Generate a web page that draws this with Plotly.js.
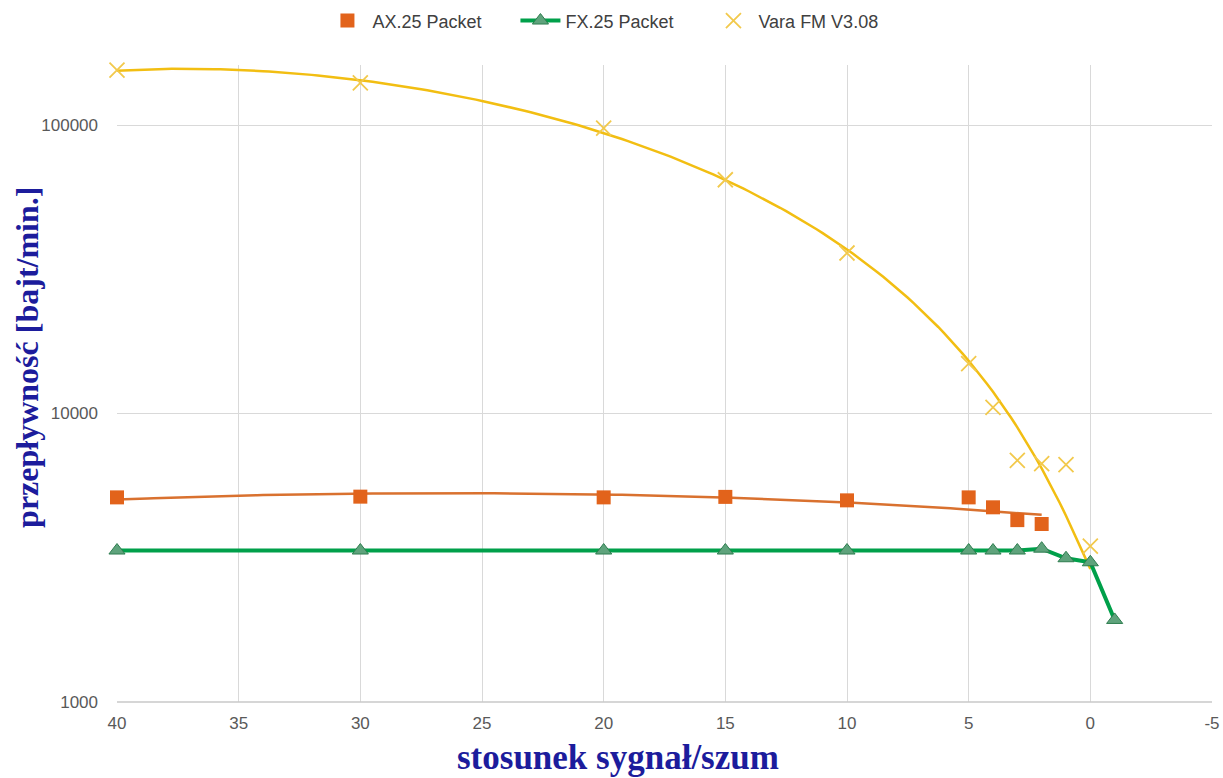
<!DOCTYPE html>
<html>
<head>
<meta charset="utf-8">
<script src="https://cdn.plot.ly/plotly-3.0.1.min.js"></script>
<style>html,body{margin:0;padding:0;background:#fff;}#chart{width:1223px;height:778px;}</style>
</head>
<body>
<div id="chart"></div>
<script>
// SNR values (dB)
var axSnr = [40, 30, 20, 15, 10, 5, 4, 3, 2];
var axThroughput = [5120, 5150, 5120, 5140, 5000, 5120, 4730, 4270, 4140];

var fxSnr = [40, 30, 20, 15, 10, 5, 4, 3, 2, 1, 0, -1];
var fxThroughput = [3350, 3350, 3350, 3350, 3350, 3350, 3350, 3350, 3400, 3150, 3050, 1925];

var varaSnr = [40, 30, 20, 15, 10, 5, 4, 3, 2, 1, 0];
var varaThroughput = [155000, 140000, 97600, 64600, 36000, 14900, 10500, 6880, 6700, 6650, 3470];

var xTickVals = [40, 35, 30, 25, 20, 15, 10, 5, 0, -5];
var yTickVals = [1000, 10000, 100000];

var xTitle = 'stosunek sygnał/szum';
var yTitle = 'przepływność [bajt/min.]';

// least-squares polynomial trendline (like a spreadsheet trendline)
function polyFit(xs, ys, order) {
  var n = order + 1, A = [], b = [];
  for (var i = 0; i < n; i++) {
    A.push(new Array(n).fill(0)); b.push(0);
  }
  for (var k = 0; k < xs.length; k++) {
    for (var i = 0; i < n; i++) {
      b[i] += ys[k] * Math.pow(xs[k], i);
      for (var j = 0; j < n; j++) A[i][j] += Math.pow(xs[k], i + j);
    }
  }
  for (var i = 0; i < n; i++) {
    var p = i;
    for (var r = i + 1; r < n; r++) if (Math.abs(A[r][i]) > Math.abs(A[p][i])) p = r;
    var t = A[i]; A[i] = A[p]; A[p] = t; var tb = b[i]; b[i] = b[p]; b[p] = tb;
    for (var r = i + 1; r < n; r++) {
      var f = A[r][i] / A[i][i];
      for (var c = i; c < n; c++) A[r][c] -= f * A[i][c];
      b[r] -= f * b[i];
    }
  }
  var coef = new Array(n).fill(0);
  for (var i = n - 1; i >= 0; i--) {
    var s = b[i];
    for (var c = i + 1; c < n; c++) s -= A[i][c] * coef[c];
    coef[i] = s / A[i][i];
  }
  return coef;
}
function trend(xs, ys, order) {
  var coef = polyFit(xs, ys, order);
  var lo = Math.min.apply(null, xs), hi = Math.max.apply(null, xs);
  var tx = [], ty = [];
  for (var x = lo; x <= hi + 1e-9; x += 0.25) {
    var v = 0;
    for (var i = 0; i < coef.length; i++) v += coef[i] * Math.pow(x, i);
    tx.push(x); ty.push(v);
  }
  return {x: tx, y: ty};
}
var axTrend = trend(axSnr, axThroughput, 2);
var varaTrend = trend(varaSnr, varaThroughput, 3);

var orange = '#E2631B', green = '#00A04A';
var titleFont = {family: 'Liberation Serif, DejaVu Serif, serif', color: '#1C1C9C', weight: 'bold'};

var traces = [
  {x: axTrend.x, y: axTrend.y, mode: 'lines', line: {color: '#D9712F', width: 2.5}, showlegend: false, hoverinfo: 'skip'},
  {x: varaTrend.x, y: varaTrend.y, mode: 'lines', line: {color: '#F2BE12', width: 2.5}, showlegend: false, hoverinfo: 'skip'},
  {x: axSnr, y: axThroughput, name: 'AX.25 Packet', mode: 'markers', cliponaxis: false,
   marker: {symbol: 'square', size: 14, color: orange}},
  {x: fxSnr, y: fxThroughput, name: 'FX.25 Packet', mode: 'lines+markers', cliponaxis: false,
   line: {color: green, width: 4},
   marker: {symbol: 'triangle-up', size: 14, color: '#5FA37C', line: {color: '#2E7D4F', width: 1}}},
  {x: varaSnr, y: varaThroughput, name: 'Vara FM V3.08', mode: 'markers', cliponaxis: false,
   marker: {symbol: 'x-thin', size: 15, line: {color: '#F2C94C', width: 1.8}, color: '#F2C94C'}}
];

var layout = {
  width: 1223, height: 778,
  paper_bgcolor: '#fff', plot_bgcolor: '#fff',
  margin: {l: 117, r: 11, t: 65, b: 76},
  font: {family: 'Liberation Sans, Arial, sans-serif', color: '#595959', size: 14},
  showlegend: true,
  legend: {orientation: 'h', x: 0.452, xanchor: 'center', y: 0.997, yref: 'container', yanchor: 'top',
           font: {size: 18, color: '#404040'}, itemwidth: 40, tracegroupgap: 0,
           entrywidth: 138, entrywidthmode: 'pixels'},
  xaxis: {
    range: [40, -5], tickvals: xTickVals, ticktext: xTickVals.map(String),
    showgrid: true, gridcolor: '#D9D9D9', gridwidth: 1,
    zeroline: false, showline: false, ticks: '', ticklabelstandoff: 9,
    tickfont: {size: 17, color: '#595959'}
  },
  yaxis: {
    type: 'log', range: [3, 5.208], tickvals: yTickVals, ticktext: yTickVals.map(String),
    showgrid: true, gridcolor: '#D9D9D9', gridwidth: 1,
    zeroline: false, showline: false, ticks: '', ticklabelstandoff: 18,
    tickfont: {size: 17, color: '#595959'}
  },
  annotations: [
    {text: xTitle, xref: 'paper', yref: 'paper', x: 0.4575, y: -0.119, xanchor: 'center', yanchor: 'bottom',
     showarrow: false, borderpad: 0, font: Object.assign({size: 35}, titleFont)},
    {text: yTitle, xref: 'paper', yref: 'paper', x: -0.1, y: 0.541, xanchor: 'left', yanchor: 'middle',
     textangle: -90, showarrow: false, font: Object.assign({size: 32}, titleFont)}
  ],
  shapes: [{type: 'line', xref: 'paper', yref: 'paper', x0: 0, x1: 1, y0: 0, y1: 0,
            line: {color: '#C8C8C8', width: 1.5}}]
};

Plotly.newPlot('chart', traces, layout, {displayModeBar: false, responsive: false});
</script>
</body>
</html>
